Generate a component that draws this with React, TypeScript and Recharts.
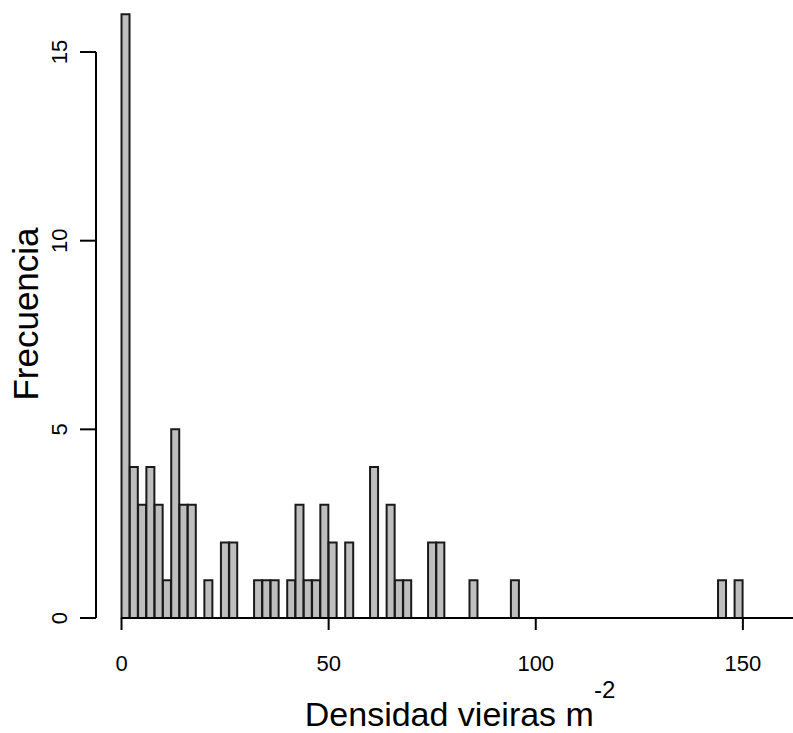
import { ComposedChart, Bar, XAxis, YAxis, ReferenceLine } from "recharts";

// histogram bins (left edge, width 2) and counts
const binStarts = [
  0, 2, 4, 6, 8, 10, 12, 14, 16, 18, 20, 22, 24, 26, 28, 30, 32, 34, 36, 38,
  40, 42, 44, 46, 48, 50, 52, 54, 56, 58, 60, 62, 64, 66, 68, 70, 72, 74, 76, 78,
  80, 82, 84, 86, 88, 90, 92, 94, 96, 98, 100, 102, 104, 106, 108, 110, 112, 114, 116, 118,
  120, 122, 124, 126, 128, 130, 132, 134, 136, 138, 140, 142, 144, 146, 148,
];
const counts = [
  16, 4, 3, 4, 3, 1, 5, 3, 3, 0, 1, 0, 2, 2, 0, 0, 1, 1, 1, 0,
  1, 3, 1, 1, 3, 2, 0, 2, 0, 0, 4, 0, 3, 1, 1, 0, 0, 2, 2, 0,
  0, 0, 1, 0, 0, 0, 0, 1, 0, 0, 0, 0, 0, 0, 0, 0, 0, 0, 0, 0,
  0, 0, 0, 0, 0, 0, 0, 0, 0, 0, 0, 0, 1, 0, 1,
];
const BIN_WIDTH = 2;
const xTicks = [0, 50, 100, 150];
const yTicks = [0, 5, 10, 15];
const X_MIN = -6.16;
const X_MAX = 162.1;
const Y_MAX = 16;

const data = binStarts.map((b, i) => ({ mid: b + BIN_WIDTH / 2, count: counts[i] }));

const FONT = "'Liberation Sans', Arial, sans-serif";

const YTick = (props: any) => {
  const { x, y, payload } = props;
  return (
    <text
      x={x}
      y={y}
      transform={`rotate(-90, ${x}, ${y})`}
      textAnchor="middle"
      fontSize={22}
      fontFamily={FONT}
      fill="#000"
    >
      {payload.value}
    </text>
  );
};

const App = () => {
  return (
    <div style={{ position: "absolute", left: 0, top: 0, background: "#fff" }}>
      <ComposedChart
        width={793}
        height={733}
        data={data}
        margin={{ top: 14.3, right: 0, left: 0, bottom: 0 }}
        barCategoryGap={0}
        barGap={0}
      >
        <XAxis
          dataKey="mid"
          type="number"
          domain={[X_MIN, X_MAX]}
          ticks={xTicks}
          height={115}
          axisLine={false}
          tickSize={12}
          tickMargin={25}
          tickLine={{ stroke: "#000", strokeWidth: 2 }}
          tick={{ fontSize: 22, fontFamily: FONT, fill: "#000" }}
          label={{
            content: () => (
              <text x={460} y={726} textAnchor="middle" fontSize={34} fontFamily={FONT} fill="#000">
                <tspan>Densidad vieiras m</tspan>
                <tspan dy={-28} fontSize={24}>-2</tspan>
              </text>
            ),
          }}
        />
        <YAxis
          type="number"
          domain={[0, Y_MAX]}
          ticks={yTicks}
          width={96}
          axisLine={false}
          tickSize={16}
          tickMargin={13}
          tickLine={{ stroke: "#000", strokeWidth: 2 }}
          tick={YTick}
          label={{
            content: () => (
              <text
                x={38}
                y={314}
                transform="rotate(-90, 38, 314)"
                textAnchor="middle"
                fontSize={35}
                fontFamily={FONT}
                fill="#000"
              >
                Frecuencia
              </text>
            ),
          }}
        />
        <Bar
          dataKey="count"
          fill="#bebebe"
          stroke="#1a1a1a"
          strokeWidth={2}
          isAnimationActive={false}
        />
        <ReferenceLine
          segment={[{ x: 0, y: 0 }, { x: X_MAX, y: 0 }]}
          stroke="#000"
          strokeWidth={2}
          ifOverflow="visible"
        />
        <ReferenceLine
          segment={[{ x: X_MIN, y: 0 }, { x: X_MIN, y: 15 }]}
          stroke="#000"
          strokeWidth={2}
          ifOverflow="visible"
        />
      </ComposedChart>
    </div>
  );
};

export default App;
